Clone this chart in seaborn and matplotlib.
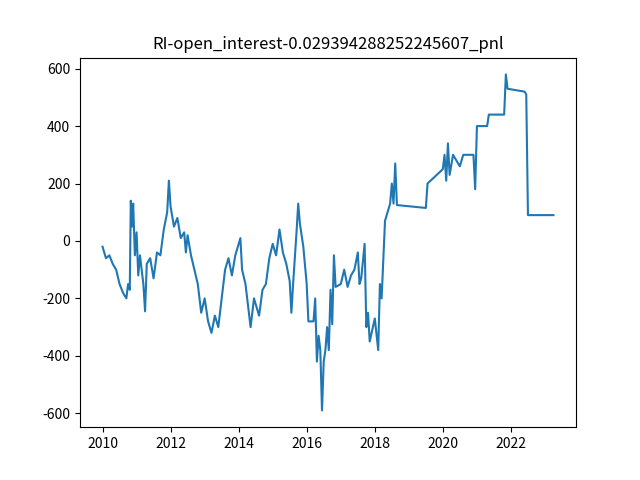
import matplotlib
matplotlib.use("Agg")
import matplotlib.pyplot as plt
import numpy as np
import pandas as pd
import seaborn as sns

plt.rcParams['font.family'] = ['Noto Sans CJK SC', 'DejaVu Sans']
plt.rcParams['axes.unicode_minus'] = False

# decimal years
year_pos = [
    2010.0, 2010.1, 2010.2, 2010.3, 2010.4, 2010.5, 2010.6, 2010.7, 2010.75, 2010.8,
    2010.83, 2010.87, 2010.9, 2010.95, 2011.0, 2011.05, 2011.1, 2011.2, 2011.25, 2011.3,
    2011.4, 2011.5, 2011.6, 2011.7, 2011.8, 2011.9, 2011.95, 2012.0, 2012.1, 2012.2,
    2012.3, 2012.4, 2012.45, 2012.5, 2012.6, 2012.7, 2012.8, 2012.9, 2013.0, 2013.1,
    2013.2, 2013.3, 2013.4, 2013.5, 2013.6, 2013.7, 2013.8, 2013.9, 2014.0, 2014.05,
    2014.1, 2014.2, 2014.3, 2014.35, 2014.45, 2014.6, 2014.7, 2014.8, 2014.9, 2015.0,
    2015.1, 2015.2, 2015.3, 2015.4, 2015.5, 2015.55, 2015.6, 2015.7, 2015.75, 2015.8,
    2015.9, 2016.0, 2016.05, 2016.2, 2016.25, 2016.3, 2016.35, 2016.4, 2016.45, 2016.5,
    2016.55, 2016.6, 2016.65, 2016.7, 2016.75, 2016.8, 2016.85, 2017.0, 2017.1, 2017.2,
    2017.3, 2017.4, 2017.5, 2017.55, 2017.6, 2017.7, 2017.75, 2017.8, 2017.85, 2018.0,
    2018.1, 2018.15, 2018.2, 2018.3, 2018.45, 2018.5, 2018.55, 2018.6, 2018.65, 2019.5,
    2019.55, 2020.0, 2020.05, 2020.1, 2020.15, 2020.2, 2020.3, 2020.5, 2020.6, 2020.9,
    2020.95, 2021.0, 2021.3, 2021.35, 2021.8, 2021.85, 2021.9, 2022.4, 2022.45, 2022.5,
    2023.25,
]
pnl = [
    -20, -60, -50, -80, -100, -150, -180, -200, -150, -170,
    140, 50, 130, -50, 30, -120, -50, -150, -245, -80,
    -60, -130, -40, -50, 40, 100, 210, 120, 50, 80,
    10, 30, -40, 20, -50, -100, -150, -250, -200, -280,
    -320, -260, -300, -200, -100, -60, -120, -50, -10, 10,
    -100, -150, -250, -300, -200, -260, -170, -150, -60, -10,
    -50, 40, -40, -80, -140, -250, -150, 30, 130, 60,
    -20, -150, -280, -280, -200, -420, -330, -380, -590, -420,
    -380, -300, -380, -170, -290, -50, -160, -150, -100, -160,
    -120, -100, -40, -150, -130, -10, -300, -250, -350, -270,
    -380, -150, -200, 70, 130, 200, 130, 270, 125, 115,
    200, 250, 300, 210, 340, 230, 300, 260, 300, 300,
    180, 400, 400, 440, 440, 580, 530, 520, 510, 90,
    90,
]

def to_date(y):
    yr = int(y)
    start = pd.Timestamp(year=yr, month=1, day=1)
    return start + pd.Timedelta(days=(y - yr) * 365.25)

df = pd.DataFrame({'date': [to_date(y) for y in year_pos], 'pnl': pnl})

fig, ax = plt.subplots(figsize=(6.4, 4.8), dpi=100)
sns.lineplot(data=df, x='date', y='pnl', ax=ax, color='#1f77b4', linewidth=1.5)
ax.set_xlabel('')
ax.set_ylabel('')
ax.set_yticks([-600, -400, -200, 0, 200, 400, 600])
ax.set_title('RI-open_interest-0.029394288252245607_pnl')
fig.savefig('out.png')
